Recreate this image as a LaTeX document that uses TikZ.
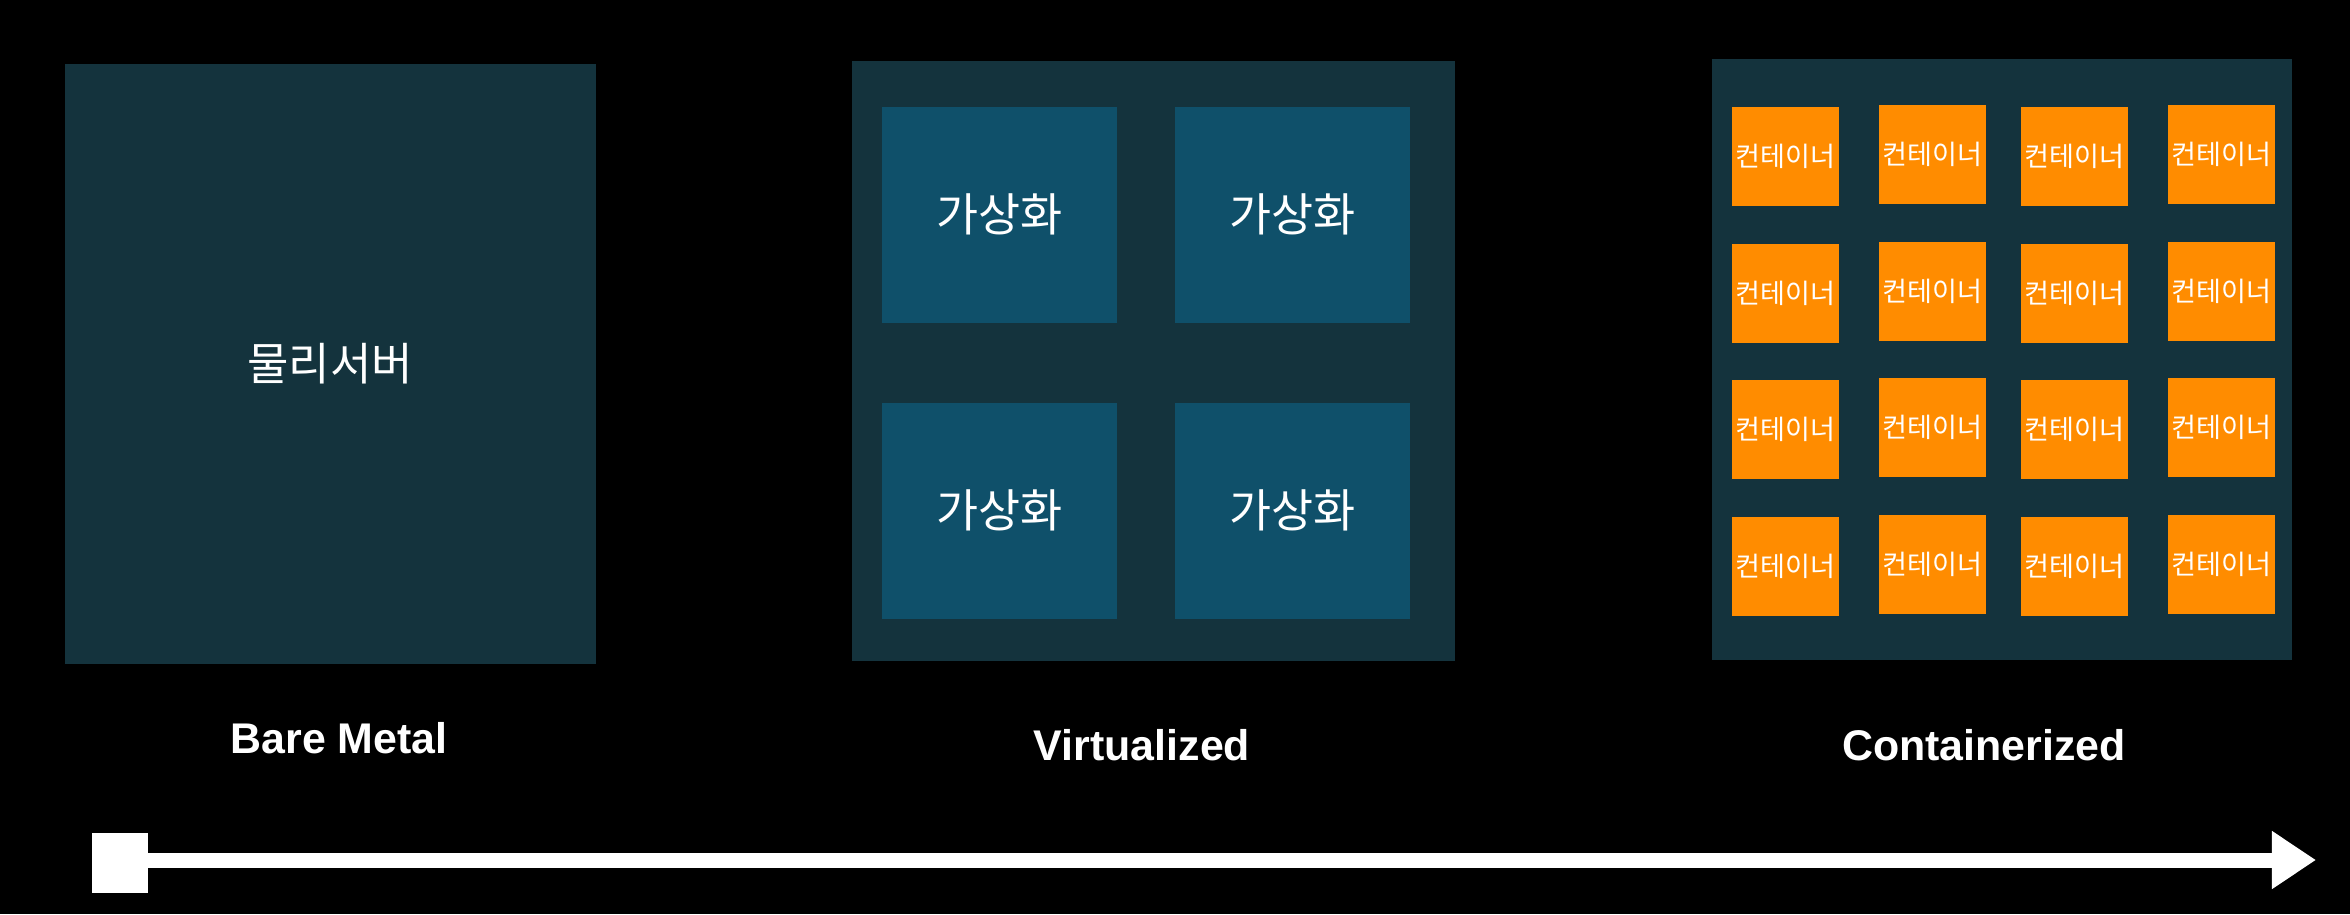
\documentclass[tikz,border=0pt]{standalone}
\usepackage{fontspec}
\setsansfont{Liberation Sans}
\newfontfamily\kr{Noto Sans CJK KR}
\usetikzlibrary{arrows.meta,positioning}
\definecolor{panel}{RGB}{20,51,61}
\definecolor{vmbox}{RGB}{15,80,106}
\definecolor{ctbox}{RGB}{255,140,0}

\begin{document}
\begin{tikzpicture}[x=0.01cm,y=-0.01cm,
  box/.style={fill=#1, inner sep=0pt, anchor=north west, text=white},
  stage/.style={text=white, font=\sffamily\bfseries\fontsize{12.2}{14}\selectfont}]
  \fill[black] (0,0) rectangle (2350,914);
  \useasboundingbox (0,0) rectangle (2350,914);
  % bare metal
  \node[box=panel, minimum width=5.31cm, minimum height=6cm,
    font=\kr\fontsize{12.8}{15}\selectfont] (bare) at (64,63) {물리서버};
  \node[stage] (barelbl) at (339,738) {Bare Metal};
  % virtualized
  \node[box=panel, minimum width=6.03cm, minimum height=6cm] (virt) at (851,60) {};
  \foreach \i/\x/\y in {1/881/106, 2/1174/106, 3/881/402, 4/1174/402}
    { \node[box=vmbox, minimum width=2.35cm, minimum height=2.16cm,
        font=\kr\fontsize{13}{15}\selectfont] (vm\i) at (\x,\y) {가상화}; }
  \node[stage] (virtlbl) at (1142,745) {Virtualized};
  % containerized
  \node[box=panel, minimum width=5.8cm, minimum height=6.01cm] (cont) at (1711,58) {};
  \foreach \c/\x in {1/1731, 2/1878, 3/2020, 4/2167} {
    \foreach \r/\y in {1/106, 2/243, 3/379, 4/516} {
      \pgfmathsetmacro\dy{mod(\c,2)==0 ? -2 : 0}
      \node[box=ctbox, minimum width=1.07cm, minimum height=0.99cm,
        font=\kr\fontsize{7.7}{9}\selectfont] (ct\c\r) at (\x,\y+\dy) {컨테이너};
    }
  }
  \node[stage] (contlbl) at (1984,745) {Containerized};
  % timeline
  \node[fill=white, inner sep=0pt, minimum width=0.55cm, minimum height=0.6cm] (start) at (120,863) {};
  \coordinate (tip) at (2316,860);
  \draw[white, line width=0.15cm, -{Triangle[length=0.44cm, width=0.55cm]}] (start.east |- tip) -- (tip);
\end{tikzpicture}
\end{document}
